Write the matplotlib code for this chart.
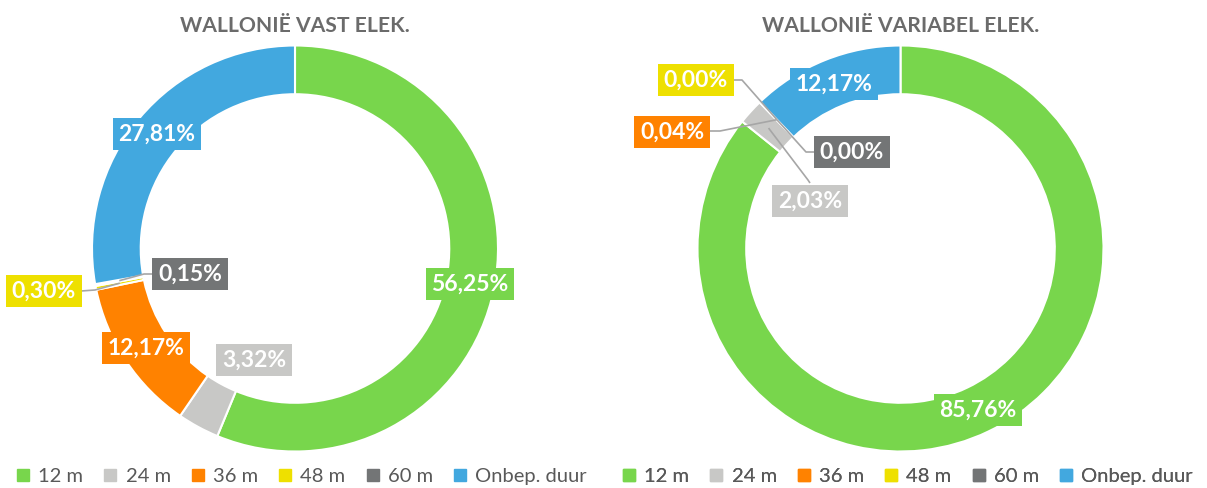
import matplotlib.pyplot as plt
from matplotlib.lines import Line2D
import numpy as np

plt.rcParams['font.family'] = ['Lato', 'DejaVu Sans']

categories = ['12 m', '24 m', '36 m', '48 m', '60 m', 'Onbep. duur']
vast = [56.25, 3.32, 12.17, 0.30, 0.15, 27.81]
variabel = [85.76, 2.03, 0.04, 0.00, 0.00, 12.17]
titles = ['WALLONIË VAST ELEK.', 'WALLONIË VARIABEL ELEK.']
colors = ['#78D64C', '#C8C8C6', '#FF8200', '#EEE000', '#737576', '#42A8DF']

# layout in pixels (origin top-left)
W, H = 1207, 488
centers = [(295, 248.5), (900.5, 248.5)]
radius = 203
ring = 0.24
# label box centres per slice
label_pos = [
    [(470, 284), (254, 360), (146, 348), (44, 291), (190, 274), (157, 134)],
    [(978, 410), (810, 201), (672, 132), (696, 80), (852, 152), (834, 84)],
]
# leader lines: (start on box edge, elbow) or None
leaders = [
    [None, None, None, ((81, 291), (95, 290)), ((153, 274), (144, 274)), None],
    [None, ((810, 183), (808, 180)), ((709, 131), (720, 131)),
     ((734, 80), (742, 80)), ((815, 152), (806, 152)), None],
]
legend_x = [301, 907]


def Y(y):
    return H - y


fig = plt.figure(figsize=(W / 100, H / 100), dpi=100)
ax = fig.add_axes([0, 0, 1, 1])

for k, vals in enumerate([vast, variabel]):
    cx, cy = centers[k]
    wedges, _ = ax.pie(vals, colors=colors, startangle=90, counterclock=False,
                       center=(cx, Y(cy)), radius=radius,
                       wedgeprops=dict(width=radius * ring, edgecolor='white', linewidth=1.5))
    ax.text(cx, Y(26), titles[k], ha='center', va='center', fontsize=15.2,
            fontweight='bold', color='#6B6B6B')
    rmid = radius * (1 - ring / 2)
    for i, w in enumerate(wedges):
        lx, ly = label_pos[k][i]
        txt = f'{vals[i]:.2f}%'.replace('.', ',')
        if leaders[k][i] is not None:
            ang = np.deg2rad((w.theta1 + w.theta2) / 2)
            tx = cx + rmid * np.cos(ang)
            ty = Y(cy) + rmid * np.sin(ang)
            (sx, sy), (ex, ey) = leaders[k][i]
            ax.plot([sx, ex, tx], [Y(sy), Y(ey), ty], color='#A6A6A6', lw=1.2,
                    zorder=3, solid_capstyle='butt')
        ax.text(lx, Y(ly), txt, ha='center', va='center', fontsize=16.5,
                fontweight='bold', color='white', zorder=5,
                bbox=dict(boxstyle='square,pad=0.25', fc=colors[i], ec='none'))

    handles = [Line2D([], [], marker='s', ls='none', markersize=9,
                      markerfacecolor=c, markeredgecolor=c) for c in colors]
    leg = ax.legend(handles, categories, loc='center', ncol=6, frameon=False,
                    bbox_to_anchor=(legend_x[k], Y(476)), bbox_transform=ax.transData,
                    fontsize=14.5, handletextpad=0.35, columnspacing=0.95,
                    handlelength=0.8, labelcolor='#595959')
    ax.add_artist(leg)

ax.set_xlim(0, W)
ax.set_ylim(0, H)
ax.set_aspect('equal')
ax.axis('off')

fig.savefig('out.png', dpi=100)
